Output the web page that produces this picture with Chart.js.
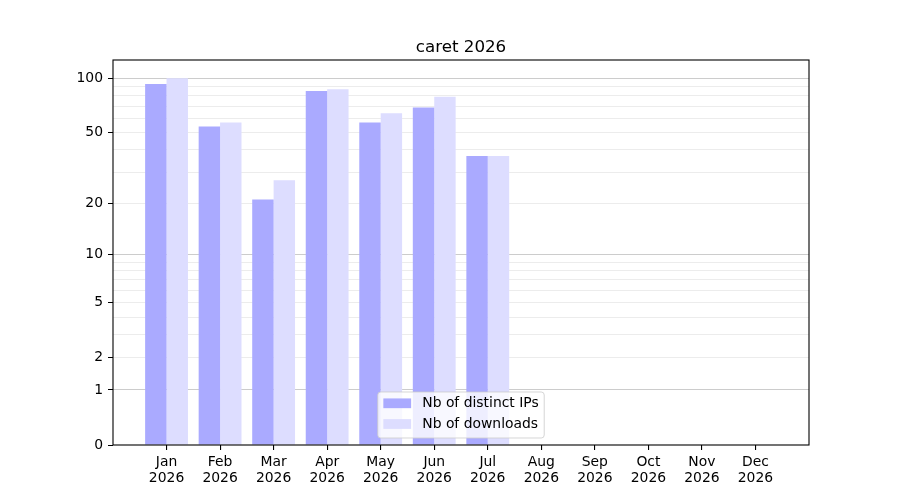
<!DOCTYPE html>
<html><head><meta charset="utf-8">
<style>html,body{margin:0;padding:0;background:#fff;}</style>
<script src="https://cdn.jsdelivr.net/npm/chart.js@4"></script>
</head><body>
<canvas id="c" width="900" height="500"></canvas>
<script>
const titleText = 'caret 2026';
const months = ['Jan','Feb','Mar','Apr','May','Jun','Jul','Aug','Sep','Oct','Nov','Dec'];
const yearLabel = '2026';
const seriesLabels = ['Nb of distinct IPs','Nb of downloads'];
const distinctIPs = [93, 54, 21, 85, 57, 69, 37];
const downloads   = [100, 57, 27, 87, 64, 79, 37];
const yTickValues = [0, 1, 2, 5, 10, 20, 50, 100];
const yMajorGrid  = [1, 10, 100];
const yMinorGrid  = [2, 3, 4, 5, 6, 7, 8, 9, 20, 30, 40, 50, 60, 70, 80, 90];
const yDataMax = 100;

const T = v => Math.log10(1 + v);
const allTicks = Array.from(new Set([...yTickValues, ...yMajorGrid, ...yMinorGrid])).sort((a,b)=>a-b);
const FONT = 'DejaVu Sans';
const FS = 13.9;

const overlay = {
  id: 'overlay',
  afterDraw(chart) {
    const {ctx, chartArea: a} = chart;
    ctx.save();
    ctx.strokeStyle = '#000';
    ctx.lineWidth = 1.1;
    ctx.strokeRect(a.left, a.top, a.right - a.left, a.bottom - a.top);
    ctx.fillStyle = '#000';
    ctx.font = '16.7px "' + FONT + '"';
    ctx.textAlign = 'center';
    ctx.textBaseline = 'alphabetic';
    ctx.fillText(titleText, (a.left + a.right) / 2, 52);
    ctx.font = FS + 'px "' + FONT + '"';
    const tw = Math.max(...seriesLabels.map(s => ctx.measureText(s).width));
    const pad = 0.4 * FS, hl = 2 * FS, htp = 0.8 * FS;
    const boxW = pad + hl + htp + tw + pad;
    const boxH = 46;
    const cx = (a.left + a.right) / 2;
    const bx = cx - boxW / 2, by = a.bottom - 7 - boxH;
    const r = 3;
    ctx.beginPath();
    ctx.moveTo(bx + r, by);
    ctx.lineTo(bx + boxW - r, by);
    ctx.quadraticCurveTo(bx + boxW, by, bx + boxW, by + r);
    ctx.lineTo(bx + boxW, by + boxH - r);
    ctx.quadraticCurveTo(bx + boxW, by + boxH, bx + boxW - r, by + boxH);
    ctx.lineTo(bx + r, by + boxH);
    ctx.quadraticCurveTo(bx, by + boxH, bx, by + boxH - r);
    ctx.lineTo(bx, by + r);
    ctx.quadraticCurveTo(bx, by, bx + r, by);
    ctx.closePath();
    ctx.fillStyle = 'rgba(255,255,255,0.8)';
    ctx.fill();
    ctx.strokeStyle = 'rgba(204,204,204,0.8)';
    ctx.lineWidth = 1;
    ctx.stroke();
    const rows = [by + 11.3, by + 32];
    chart.data.datasets.forEach((ds, i) => {
      const yc = rows[i];
      ctx.fillStyle = ds.backgroundColor;
      ctx.fillRect(bx + pad, yc - 0.35 * FS, hl, 0.7 * FS);
      ctx.fillStyle = '#000';
      ctx.textAlign = 'left';
      ctx.textBaseline = 'middle';
      ctx.fillText(ds.label, bx + pad + hl + htp, yc + 0.5);
    });
    ctx.restore();
  }
};

new Chart(document.getElementById('c'), {
  type: 'bar',
  data: {
    datasets: [
      { label: seriesLabels[0], data: distinctIPs.map((v, i) => ({x: i, y: T(v)})),
        backgroundColor: '#aaaaff', borderWidth: 0, categoryPercentage: 0.8, barPercentage: 1.0 },
      { label: seriesLabels[1], data: downloads.map((v, i) => ({x: i, y: T(v)})),
        backgroundColor: '#ddddff', borderWidth: 0, categoryPercentage: 0.8, barPercentage: 1.0 }
    ]
  },
  options: {
    responsive: false,
    devicePixelRatio: 1,
    animation: false,
    layout: { padding: { top: 60, right: 91, left: 0, bottom: 0 } },
    plugins: { legend: { display: false }, title: { display: false }, tooltip: { enabled: false } },
    scales: {
      x: {
        type: 'linear', min: -1, max: 12, offset: false,
        border: { display: false },
        afterBuildTicks: s => { s.ticks = months.map((m, i) => ({ value: i })); },
        afterFit: s => { s.height = 55; },
        ticks: {
          autoSkip: false, maxRotation: 0, minRotation: 0, padding: 4, color: '#000',
          font: { family: FONT, size: FS, lineHeight: 1.15 },
          callback: (v, i) => [months[i], yearLabel]
        },
        grid: { offset: false, drawOnChartArea: false, drawTicks: true, tickLength: 5, tickColor: '#000', lineWidth: 1.1 }
      },
      y: {
        type: 'linear', min: 0, max: T(yDataMax) * 1.05, z: 1,
        border: { display: false },
        afterBuildTicks: s => { s.ticks = allTicks.map(v => ({ value: T(v) })); },
        afterFit: s => { s.width = 113; },
        ticks: {
          autoSkip: false, padding: 5, color: '#000',
          font: { family: FONT, size: FS },
          callback: (v, i) => yTickValues.includes(allTicks[i]) ? String(allTicks[i]) : ''
        },
        grid: {
          drawOnChartArea: true, drawTicks: true, tickLength: 5, lineWidth: 1,
          color: ctx => {
            const v = allTicks[ctx.index];
            if (v === 0) return 'rgba(0,0,0,0)';
            return yMajorGrid.includes(v) ? 'rgba(0,0,0,0.2)' : 'rgba(0,0,0,0.075)';
          },
          tickColor: ctx => yTickValues.includes(allTicks[ctx.index]) ? '#000' : 'rgba(0,0,0,0)'
        }
      }
    }
  },
  plugins: [overlay]
});
</script>
</body></html>
